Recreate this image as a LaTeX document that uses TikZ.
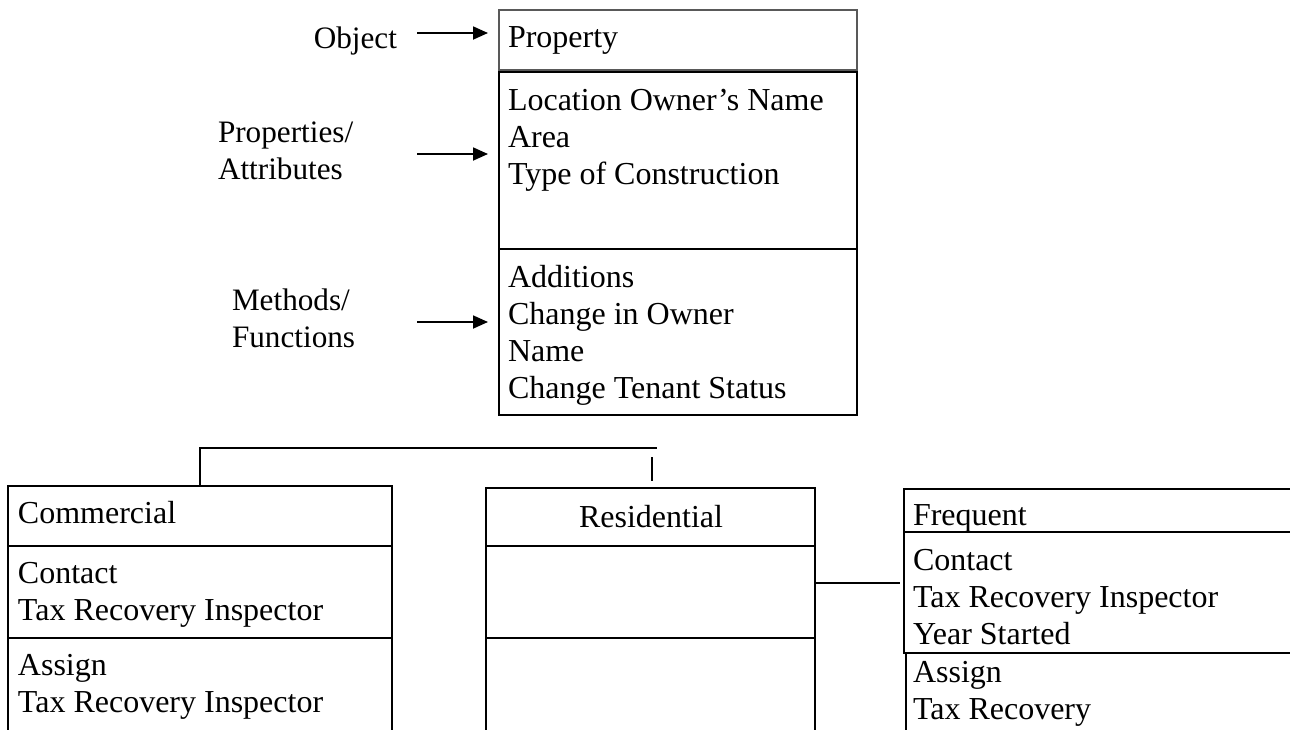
\documentclass[tikz,border=0pt]{standalone}
\usepackage{fontspec}
\setmainfont{Liberation Serif}
\usetikzlibrary{arrows.meta}

\tikzset{
  txt/.style={font=\fontsize{16pt}{18.6pt}\selectfont, inner sep=0pt, outer sep=0pt, align=left},
  side/.style={txt, font=\fontsize{15.6pt}{18.8pt}\selectfont},
  cbox/.style={draw=black, line width=1pt, rectangle, inner sep=0pt, outer sep=0pt, anchor=north west},
  headbox/.style={cbox, draw=black!65, line width=0.7pt},
  conn/.style={draw=black, line width=0.9pt},
  arr/.style={draw=black, line width=0.9pt, -{Triangle[length=7.5pt,width=6.5pt]}}
}

\begin{document}
\begin{tikzpicture}[x=0.5pt, y=-0.5pt]
\clip (0,0) rectangle (1290,729);
\fill[white] (0,0) rectangle (1290,729);

% ---- class Property ----
\node[headbox, minimum width=179pt, minimum height=30pt] (propT) at (499,10) {};
\node[cbox, minimum width=179pt, minimum height=88.5pt] (propA) at (499,72) {};
\node[cbox, minimum width=179pt, minimum height=83pt] (propM) at (499,249) {};
\node[txt, anchor=north west] (propTt) at (508,21) {\strut Property};
\node[txt, anchor=north west] (propAt) at (508,84) {\strut Location Owner’s Name\\\strut Area\\\strut Type of Construction};
\node[txt, anchor=north west] (propMt) at (508,261) {\strut Additions\\\strut Change in Owner\\\strut Name\\\strut Change Tenant Status};

% ---- side labels with arrows ----
\node[side, anchor=base east] (objL) at (397,48) {Object};
\node[side, anchor=north west] (attL) at (218,116) {\strut Properties/\\\strut Attributes};
\node[side, anchor=north west] (metL) at (232,284) {\strut Methods/\\\strut Functions};
\coordinate (objA) at (417,33);  \coordinate (objB) at (488,33);
\coordinate (attA) at (417,154); \coordinate (attB) at (488,154);
\coordinate (metA) at (417,322); \coordinate (metB) at (488,322);
\draw[arr] (objA) -- (objB);
\draw[arr] (attA) -- (attB);
\draw[arr] (metA) -- (metB);

% ---- class Commercial ----
\node[cbox, minimum width=192pt, minimum height=30pt] (comT) at (8,486) {};
\node[cbox, minimum width=192pt, minimum height=46pt] (comA) at (8,546) {};
\node[cbox, minimum width=192pt, minimum height=65pt] (comM) at (8,638) {};
\node[txt, anchor=north west] (comTt) at (18,497) {\strut Commercial};
\node[txt, anchor=north west] (comAt) at (18,557) {\strut Contact\\\strut Tax Recovery Inspector};
\node[txt, anchor=north west] (comMt) at (18,649) {\strut Assign\\\strut Tax Recovery Inspector};

% ---- class Residential ----
\node[cbox, minimum width=164.5pt, minimum height=29pt] (resT) at (486,488) {};
\node[cbox, minimum width=164.5pt, minimum height=46pt] (resA) at (486,546) {};
\node[cbox, minimum width=164.5pt, minimum height=65pt] (resM) at (486,638) {};
\node[txt, anchor=base] (resTt) at (651,527) {Residential};

% ---- class Frequent ----
\begin{scope}
  \clip (904,489) rectangle (1290,531);
  \node[txt, anchor=north west] (freTt) at (913,499) {\strut Frequent};
\end{scope}
\node[cbox, minimum width=210pt, minimum height=21.5pt] (freT) at (904,489) {};
\node[cbox, minimum width=210pt, minimum height=60.5pt] (freA) at (904,532) {};
\node[cbox, minimum width=210pt, minimum height=65pt] (freM) at (906,653) {};
\node[txt, anchor=north west] (freAt) at (913,544) {\strut Contact\\\strut Tax Recovery Inspector\\\strut Year Started};
\node[txt, anchor=north west] (freMt) at (913,656) {\strut Assign\\\strut Tax Recovery};

% ---- connectors ----
\coordinate (busEnd) at (657,448);
\draw[conn] (comT.north) -- (comT.north |- busEnd) -- (busEnd);
\coordinate (tickTop) at (652,457);
\coordinate (tickBot) at (652,481);
\draw[conn] (tickTop) -- (tickBot);
\coordinate (linkEnd) at (900,583);
\draw[conn] (resA.east |- linkEnd) -- (linkEnd);
\end{tikzpicture}
\end{document}
